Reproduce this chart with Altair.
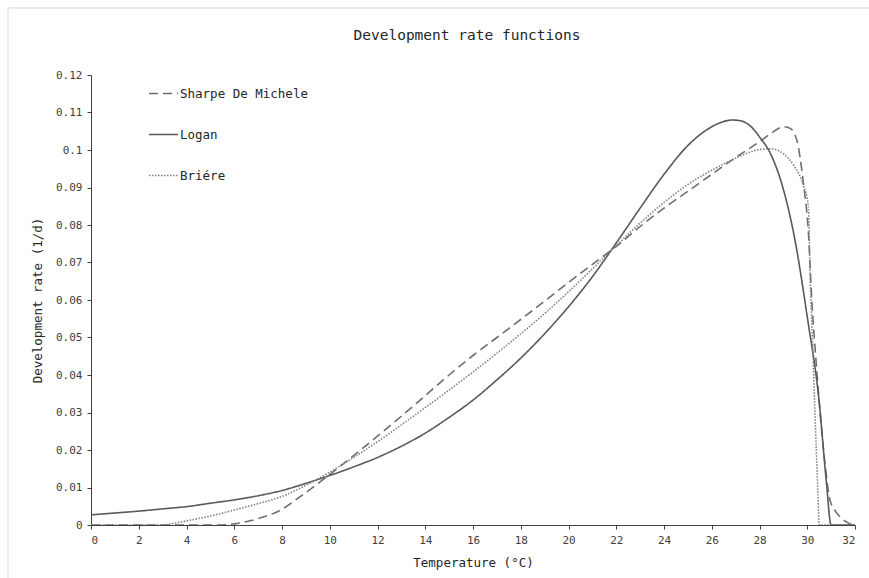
import altair as alt
import pandas as pd

FONT = "DejaVu Sans Mono"

series = ["Sharpe De Michele", "Logan", "Briére"]

sharpe_t = [0, 2, 4, 5.5, 6, 7, 8, 8.75, 10, 11, 12, 13, 14, 15, 16, 17, 18, 19, 20, 21,
            22, 23, 24, 25, 26, 27, 28, 28.5, 29, 29.3, 29.56, 29.84, 30.05, 30.19, 30.33,
            30.5, 30.75, 30.95, 31.2, 31.4, 31.8, 32]
sharpe_v = [0, 0, 0, 0, 0.0003, 0.0017, 0.0042, 0.0075, 0.0135, 0.0185, 0.0237, 0.029,
            0.0345, 0.040, 0.0452, 0.050, 0.0548, 0.0597, 0.0647, 0.0695, 0.0743, 0.0796,
            0.0845, 0.089, 0.0935, 0.098, 0.1022, 0.1045, 0.1062, 0.1057, 0.1027, 0.0911,
            0.0778, 0.060, 0.047, 0.033, 0.016, 0.0067, 0.0035, 0.002, 0.0003, 0]

logan_t = [0, 1, 2, 3, 4, 5, 6, 7, 8, 9, 10, 11, 12, 13, 14, 15, 16, 17, 18, 19, 20, 21,
           22, 23, 24, 25, 26, 26.5, 26.85, 27.2, 27.6, 28, 28.5, 29, 29.5, 30, 30.5, 30.8,
           31, 32]
logan_v = [0.0027, 0.0032, 0.0037, 0.0043, 0.0049, 0.0058, 0.0067, 0.0078, 0.0092, 0.0111,
           0.0132, 0.0155, 0.018, 0.021, 0.0245, 0.0287, 0.0333, 0.0387, 0.0445, 0.051,
           0.0582, 0.0662, 0.0752, 0.0845, 0.0935, 0.1012, 0.1062, 0.1076, 0.108, 0.1078,
           0.1065, 0.1035, 0.0985, 0.0895, 0.0755, 0.0555, 0.0328, 0.0115, 0, 0]

briere_t = [0, 1, 2, 2.9, 4, 5, 6, 7, 8, 8.75, 10, 11, 12, 13, 14, 15, 16, 17, 18, 19, 20,
            21, 22, 23, 24, 25, 26, 27, 28, 28.5, 29, 29.42, 29.84, 30.05, 30.11, 30.23,
            30.35, 30.45, 30.5, 31, 32]
briere_v = [0, 0, 0, 0, 0.0011, 0.0024, 0.004, 0.0057, 0.0076, 0.0098, 0.0141, 0.018,
            0.0222, 0.0267, 0.0313, 0.036, 0.0408, 0.0458, 0.051, 0.0564, 0.0622, 0.0683,
            0.0745, 0.0805, 0.086, 0.0908, 0.0946, 0.0978, 0.1001, 0.1003, 0.099, 0.096,
            0.0905, 0.0849, 0.069, 0.0475, 0.025, 0.008, 0, 0, 0]

x_ticks = list(range(0, 33, 2))
y_ticks = [round(i * 0.01, 2) for i in range(13)]

rows = []
for name, ts, vs in [(series[0], sharpe_t, sharpe_v), (series[1], logan_t, logan_v),
                     (series[2], briere_t, briere_v)]:
    for t, v in zip(ts, vs):
        rows.append({"Temperature": t, "Rate": v, "Model": name})
df = pd.DataFrame(rows)

lines = alt.Chart(df).mark_line(interpolate="monotone", clip=True).encode(
    x=alt.X("Temperature:Q",
            scale=alt.Scale(domain=[0, 32], nice=False, zero=False),
            axis=alt.Axis(values=x_ticks, title="Temperature (°C)", format="d",
                          grid=False, labelPadding=5, titlePadding=11)),
    y=alt.Y("Rate:Q",
            scale=alt.Scale(domain=[0, 0.12], nice=False),
            axis=alt.Axis(values=y_ticks, title="Development rate (1/d)",
                          labelExpr="format(datum.value, '.2~f')",
                          grid=False, labelPadding=5, titlePadding=11)),
    color=alt.Color("Model:N", scale=alt.Scale(domain=series,
                    range=["#6e6e6e", "#595959", "#808080"]),
                    legend=alt.Legend(title=None)),
    strokeDash=alt.StrokeDash("Model:N", scale=alt.Scale(domain=series,
                              range=[[9, 5], [1, 0], [1.5, 1.5]]),
                              legend=alt.Legend(title=None)),
    strokeWidth=alt.StrokeWidth("Model:N", scale=alt.Scale(domain=series,
                                range=[1.6, 1.6, 1.2]),
                                legend=alt.Legend(title=None)),
)

border = alt.Chart(pd.DataFrame({"a": [0]})).mark_rect(
    fillOpacity=0, stroke="#d9d9d9", strokeWidth=1, clip=False
).encode(
    x=alt.value(-83), x2=alt.value(869 - 91 + 20),
    y=alt.value(-67), y2=alt.value(578 - 75 + 20),
)

chart = alt.layer(border, lines).properties(
    width=764, height=450,
    autosize=alt.AutoSizeParams(type="none"),
    padding={"left": 91, "top": 75, "right": 14, "bottom": 53},
    title=alt.TitleParams("Development rate functions", font=FONT, fontSize=14.5,
                          fontWeight="normal", color="#262626", anchor="middle",
                          offset=-36, dx=-6),
    background="white",
).configure_view(stroke=None).configure_axis(
    labelFont=FONT, labelFontSize=11, labelColor="#404040",
    titleFont=FONT, titleFontSize=12.5, titleFontWeight="normal", titleColor="#262626",
    domainColor="#404040", tickColor="#404040", tickSize=4, domainWidth=1,
).configure_legend(
    orient="none", legendX=57, legendY=3, symbolType="stroke", symbolSize=841,
    labelFont=FONT, labelFontSize=12.5, labelColor="#262626", rowPadding=19,
    padding=0, labelOffset=1,
)

chart.save("out.html", embed_options={"renderer": "svg", "actions": False})
